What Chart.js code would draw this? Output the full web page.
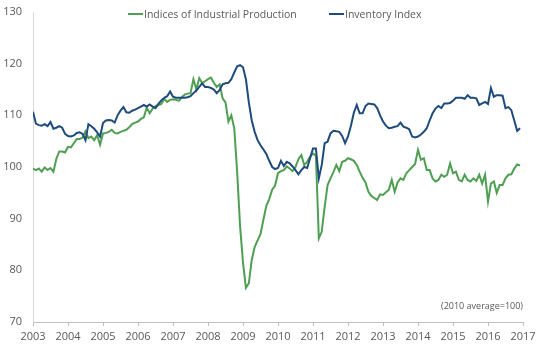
<!DOCTYPE html>
<html>
<head>
<meta charset="utf-8">
<script src="https://cdn.jsdelivr.net/npm/chart.js@4.4.0/dist/chart.umd.min.js"></script>
<style>
body { margin: 0; background: #fff; }
#wrap { position: relative; width: 550px; height: 351px; }
.lg { position: absolute; top: 7px; font: 10.5px "Open Sans"; color: #595959; white-space: nowrap; }
.sw { display: inline-block; width: 15px; height: 2px; vertical-align: middle; margin-right: 1px; position: relative; top: -1px; }
#note { position: absolute; right: 27px; top: 299px; font: 9px "Open Sans"; color: #595959; }
</style>
</head>
<body>
<div id="wrap">
<canvas id="myChart" width="550" height="351"></canvas>
<div class="lg" style="left:128px"><span class="sw" style="background:#4f9f52"></span>Indices of Industrial Production</div>
<div class="lg" style="left:329px"><span class="sw" style="background:#1f4b7c"></span>Inventory Index</div>
<div id="note">(2010 average=100)</div>
</div>
<script>
// monthly, Jan 2003 - Dec 2016
startYear = 2003;
yearTicks = [2003, 2004, 2005, 2006, 2007, 2008, 2009, 2010, 2011, 2012, 2013, 2014, 2015, 2016, 2017];

iip_ls = [
    99.7, 99.4, 99.7, 99.1, 99.9, 99.4, 99.8, 99.1, 101.6, 103.0, 103.0, 102.8,
    103.9, 103.8, 104.6, 105.4, 105.4, 105.7, 106.9, 105.6, 105.9, 105.2, 106.2, 104.3,
    106.5, 106.6, 106.8, 107.2, 106.6, 106.5, 106.8, 107.0, 107.2, 107.7, 108.3, 108.6,
    108.8, 109.3, 109.6, 111.5, 110.4, 111.3, 111.8, 112.0, 112.2, 113.2, 112.6, 113.0,
    113.1, 113.0, 112.8, 113.5, 114.0, 114.2, 114.3, 117.0, 115.0, 117.2, 116.2, 116.6,
    117.0, 117.3, 116.3, 115.5, 116.0, 113.3, 112.5, 108.8, 110.0, 107.5, 99.0, 88.5,
    81.5, 76.6, 77.5, 82.0, 84.5, 85.8, 87.0, 89.8, 92.5, 93.8, 95.6, 96.4,
    98.8, 99.2, 99.4, 100.1, 99.7, 99.2, 100.0, 101.5, 102.3, 100.4, 101.0, 102.0,
    102.6, 102.2, 86.2, 87.5, 92.3, 96.5, 97.8, 99.0, 100.4, 99.2, 101.0, 101.2,
    101.7, 101.5, 101.2, 100.4, 99.1, 97.9, 97.0, 95.2, 94.4, 94.0, 93.6, 94.7,
    94.6, 95.1, 95.6, 97.5, 95.2, 97.0, 97.8, 97.5, 98.8, 99.4, 100.0, 100.6,
    103.3, 101.4, 101.7, 99.4, 99.4, 97.8, 97.2, 97.5, 98.5, 98.1, 98.5, 100.7,
    98.8, 99.1, 97.5, 97.2, 98.5, 97.5, 97.2, 97.8, 97.3, 98.5, 96.8, 98.5,
    93.3, 96.8, 97.2, 95.0, 96.5, 96.5, 97.8, 98.5, 98.6, 99.7, 100.5, 100.3
];

inv_ls = [
    110.7, 108.4, 108.1, 108.0, 108.3, 107.9, 108.7, 107.4, 107.6, 107.9, 107.6, 106.4,
    106.0, 105.9, 106.1, 106.6, 106.7, 106.4, 105.2, 108.3, 107.9, 107.4, 106.7, 105.9,
    108.5, 109.0, 109.1, 109.0, 108.6, 110.0, 110.9, 111.6, 110.6, 110.5, 110.9, 111.1,
    111.4, 111.7, 112.0, 111.7, 112.1, 111.7, 111.4, 112.2, 112.9, 113.4, 113.7, 114.6,
    113.6, 113.4, 113.4, 113.4, 113.4, 113.5, 113.7, 114.3, 114.8, 115.5, 116.2, 115.5,
    115.5, 115.3, 115.0, 114.3, 114.9, 116.0, 116.2, 116.3, 117.0, 118.3, 119.5, 119.7,
    119.3, 117.0, 112.5, 109.0, 106.8, 105.2, 104.2, 103.4, 102.5, 101.2, 100.0, 99.6,
    99.8, 101.2, 100.2, 101.0, 100.7, 100.1, 99.4, 98.6, 99.4, 100.0, 99.8, 101.7,
    103.6, 103.6, 97.8, 100.4, 104.6, 104.9, 106.5, 107.0, 106.9, 106.8, 106.0, 104.6,
    105.9, 108.0, 110.5, 112.0, 110.4, 110.4, 111.8, 112.3, 112.2, 112.1, 111.4, 110.0,
    108.8, 108.0, 107.5, 107.6, 107.8, 107.9, 108.6, 107.8, 107.6, 107.3, 105.9, 105.7,
    105.9, 106.3, 106.8, 107.5, 109.0, 110.4, 111.3, 111.8, 111.4, 112.3, 112.3, 112.4,
    112.8, 113.4, 113.4, 113.4, 113.2, 113.9, 113.4, 113.4, 113.3, 112.0, 112.3, 112.6,
    112.2, 115.3, 113.6, 113.9, 113.9, 113.8, 111.4, 111.6, 111.0, 109.0, 107.0, 107.5
];

function toPoints(ls) {
    return ls.map((v, i) => ({ x: startYear + i / 12, y: v }));
}

var canvas = document.getElementById('myChart');
var myChart = new Chart(canvas, {
    type: 'line',
    data: {
        datasets: [
            { label: 'Indices of Industrial Production', data: toPoints(iip_ls), borderColor: '#4f9f52', backgroundColor: '#4f9f52', borderWidth: 2, pointRadius: 0, tension: 0, order: 1 },
            { label: 'Inventory Index', data: toPoints(inv_ls), borderColor: '#1f4b7c', backgroundColor: '#1f4b7c', borderWidth: 2, pointRadius: 0, tension: 0, order: 0 }
        ]
    },
    options: {
        responsive: false,
        animation: false,
        layout: { padding: { top: 12, right: 27, left: 0, bottom: 0 } },
        plugins: { legend: { display: false }, tooltip: { enabled: false } },
        scales: {
            x: {
                type: 'linear',
                min: 2003,
                max: 2017,
                afterBuildTicks: s => { s.ticks = yearTicks.map(v => ({ value: v })); },
                afterFit: s => { s.height = 29; },
                ticks: { color: '#595959', font: { family: 'Open Sans', size: 11 }, padding: 4, maxRotation: 0, callback: v => String(v) },
                grid: { drawOnChartArea: false, drawTicks: true, tickLength: 4, color: '#bfbfbf' },
                border: { color: '#bfbfbf' }
            },
            y: {
                min: 70,
                max: 130,
                afterFit: s => { s.width = 33; s.paddingTop = 0; s.paddingBottom = 0; },
                ticks: { stepSize: 10, color: '#595959', font: { family: 'Open Sans', size: 11 }, padding: 11 },
                grid: { display: false, drawTicks: false },
                border: { color: '#d9d9d9' }
            }
        }
    }
});
</script>
</body>
</html>
